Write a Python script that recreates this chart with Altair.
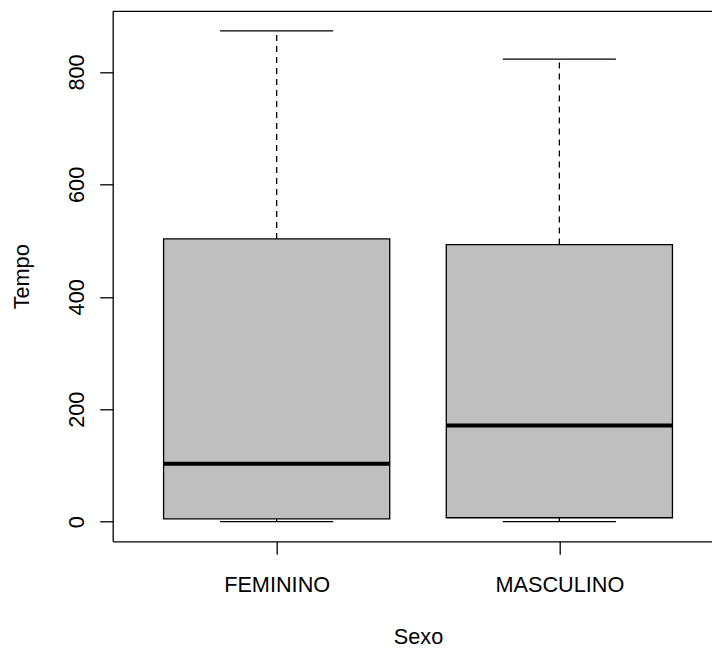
import altair as alt
import pandas as pd

# Data
sexo = ["FEMININO", "MASCULINO"]
posicao = [1, 2]
minimo = [0, 0]
q1 = [5, 7]
mediana = [103, 171]
q3 = [503, 493]
maximo = [873, 823]

BOX_HALF = 0.4
CAP_HALF = 0.2

df = pd.DataFrame({
    "sexo": sexo,
    "pos": posicao,
    "lo": minimo,
    "q1": q1,
    "med": mediana,
    "q3": q3,
    "hi": maximo,
})
df["box_l"] = df["pos"] - BOX_HALF
df["box_r"] = df["pos"] + BOX_HALF
df["cap_l"] = df["pos"] - CAP_HALF
df["cap_r"] = df["pos"] + CAP_HALF

FONT = "Liberation Sans"
FS = 21.7
LW = 1.3

W = 599.3
H = 530

xscale = alt.Scale(domain=[0.42, 0.42 + W / 282.7], nice=False, zero=False)
yscale = alt.Scale(domain=[-34.9, 907.9], nice=False, zero=False)

xaxis = alt.Axis(
    values=[1, 2],
    labelExpr="datum.value == 1 ? 'FEMININO' : 'MASCULINO'",
    title="Sexo",
    grid=False,
    tickSize=13, tickWidth=LW, tickColor="black",
    domainColor="black", domainWidth=LW,
    labelFont=FONT, labelFontSize=FS, labelColor="black",
    labelBaseline="alphabetic", labelPadding=37.4, labelAlign="center",
    labelOverlap=False, labelFlush=False,
    titleFont=FONT, titleFontSize=FS, titleFontWeight="normal", titleColor="black",
    titleX=305.3, titleY=102.5, titleAlign="center", titleBaseline="alphabetic",
)

yaxis = alt.Axis(
    values=[0, 200, 400, 600, 800],
    title="Tempo",
    grid=False,
    tickSize=13, tickWidth=LW, tickColor="black",
    domainColor="black", domainWidth=LW,
    labelFont=FONT, labelFontSize=FS, labelColor="black",
    labelAngle=270, labelAlign="center", labelBaseline="alphabetic",
    labelPadding=16.7, labelOverlap=False, labelFlush=False,
    titleFont=FONT, titleFontSize=FS, titleFontWeight="normal", titleColor="black",
    titleAngle=270, titleX=-84.5, titleY=H / 2, titleAlign="center",
    titleBaseline="alphabetic",
)

base = alt.Chart(df)

whisk_up = base.mark_rule(color="black", strokeWidth=LW, strokeDash=[6, 5]).encode(
    x=alt.X("pos:Q", scale=xscale, axis=xaxis),
    y=alt.Y("q3:Q", scale=yscale, axis=yaxis),
    y2="hi:Q",
)
whisk_lo = base.mark_rule(color="black", strokeWidth=LW, strokeDash=[6, 5]).encode(
    x=alt.X("pos:Q", scale=xscale),
    y=alt.Y("lo:Q", scale=yscale),
    y2="q1:Q",
)
cap_hi = base.mark_rule(color="black", strokeWidth=LW).encode(
    x=alt.X("cap_l:Q", scale=xscale), x2="cap_r:Q",
    y=alt.Y("hi:Q", scale=yscale),
)
cap_lo = base.mark_rule(color="black", strokeWidth=LW).encode(
    x=alt.X("cap_l:Q", scale=xscale), x2="cap_r:Q",
    y=alt.Y("lo:Q", scale=yscale),
)
box = base.mark_rect(fill="#BFBFBF", stroke="black", strokeWidth=LW).encode(
    x=alt.X("box_l:Q", scale=xscale), x2="box_r:Q",
    y=alt.Y("q1:Q", scale=yscale), y2="q3:Q",
)
med = base.mark_rule(color="black", strokeWidth=4).encode(
    x=alt.X("box_l:Q", scale=xscale), x2="box_r:Q",
    y=alt.Y("med:Q", scale=yscale),
)
top_border = alt.Chart(pd.DataFrame({"a": [0]})).mark_rule(
    color="black", strokeWidth=LW
).encode(x=alt.value(0), x2=alt.value(W), y=alt.value(0))

chart = alt.layer(
    whisk_up, whisk_lo, cap_hi, cap_lo, box, med, top_border
).properties(
    width=W,
    height=H,
    autosize=alt.AutoSizeParams(type="none"),
    padding={"left": 112.7, "top": 11.3, "right": 0, "bottom": 106.7},
    background="white",
).configure_view(stroke=None)

chart.save("out.html", embed_options={"renderer": "svg", "actions": False})
